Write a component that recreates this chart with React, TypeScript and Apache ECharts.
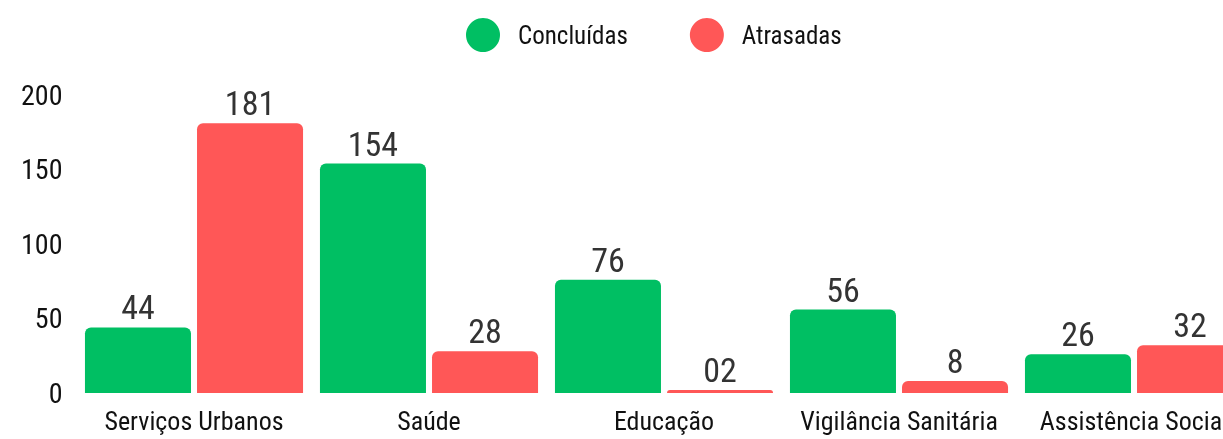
import React, { useEffect, useRef } from "react";
import * as echarts from "echarts";

const categories = ["Serviços Urbanos", "Saúde", "Educação", "Vigilância Sanitária", "Assistência Social"];
const concluidas = [44, 154, 76, 56, 26];
const atrasadas = [181, 28, 2, 8, 32];
const atrasadasLabels = ["181", "28", "02", "8", "32"];
const seriesNames = ["Concluídas", "Atrasadas"];

const FONT = "'Roboto Condensed', 'DejaVu Sans Condensed', sans-serif";

export default function App() {
  const ref = useRef<HTMLDivElement>(null);
  useEffect(() => {
    if (!ref.current) return;
    const chart = echarts.init(ref.current, undefined, { renderer: "svg" });
    chart.setOption({
      animation: false,
      textStyle: { fontFamily: FONT },
      legend: {
        data: seriesNames,
        left: 461,
        top: 13,
        icon: "circle",
        itemWidth: 34,
        itemHeight: 34,
        itemGap: 62,
        textStyle: { fontFamily: FONT, fontSize: 25, color: "#111", padding: [0, 0, 0, 13] },
      },
      grid: { left: 76.5, width: 1175, top: 95, bottom: 46, containLabel: false },
      xAxis: {
        type: "category",
        data: categories,
        axisLine: { show: false },
        axisTick: { show: false },
        axisLabel: { interval: 0, fontFamily: FONT, fontSize: 26, color: "#111", margin: 15 },
      },
      yAxis: {
        type: "value",
        min: 0,
        max: 200,
        interval: 50,
        splitLine: { show: false },
        axisLabel: { fontFamily: FONT, fontSize: 28, color: "#111", margin: 14 },
      },
      series: [
        {
          name: seriesNames[0],
          type: "bar",
          data: concluidas,
          barGap: "5.7%",
          barCategoryGap: "7.2%",
          itemStyle: { color: "#00BF63", borderRadius: [6, 6, 0, 0] },
          label: { show: true, position: "top", distance: 3, fontFamily: FONT, fontSize: 34, color: "#333" },
        },
        {
          name: seriesNames[1],
          type: "bar",
          data: atrasadas,
          barGap: "5.7%",
          barCategoryGap: "7.2%",
          itemStyle: { color: "#FF5757", borderRadius: [6, 6, 0, 0] },
          label: {
            show: true,
            position: "top",
            distance: 3,
            fontFamily: FONT,
            fontSize: 34,
            color: "#333",
            formatter: (p: any) => atrasadasLabels[p.dataIndex],
          },
        },
      ],
    });
    return () => chart.dispose();
  }, []);
  return (
    <div style={{ position: "fixed", left: 0, top: 0, width: 1223, height: 439, overflow: "hidden" }}>
      <div ref={ref} style={{ width: 1260, height: 439 }} />
    </div>
  );
}
